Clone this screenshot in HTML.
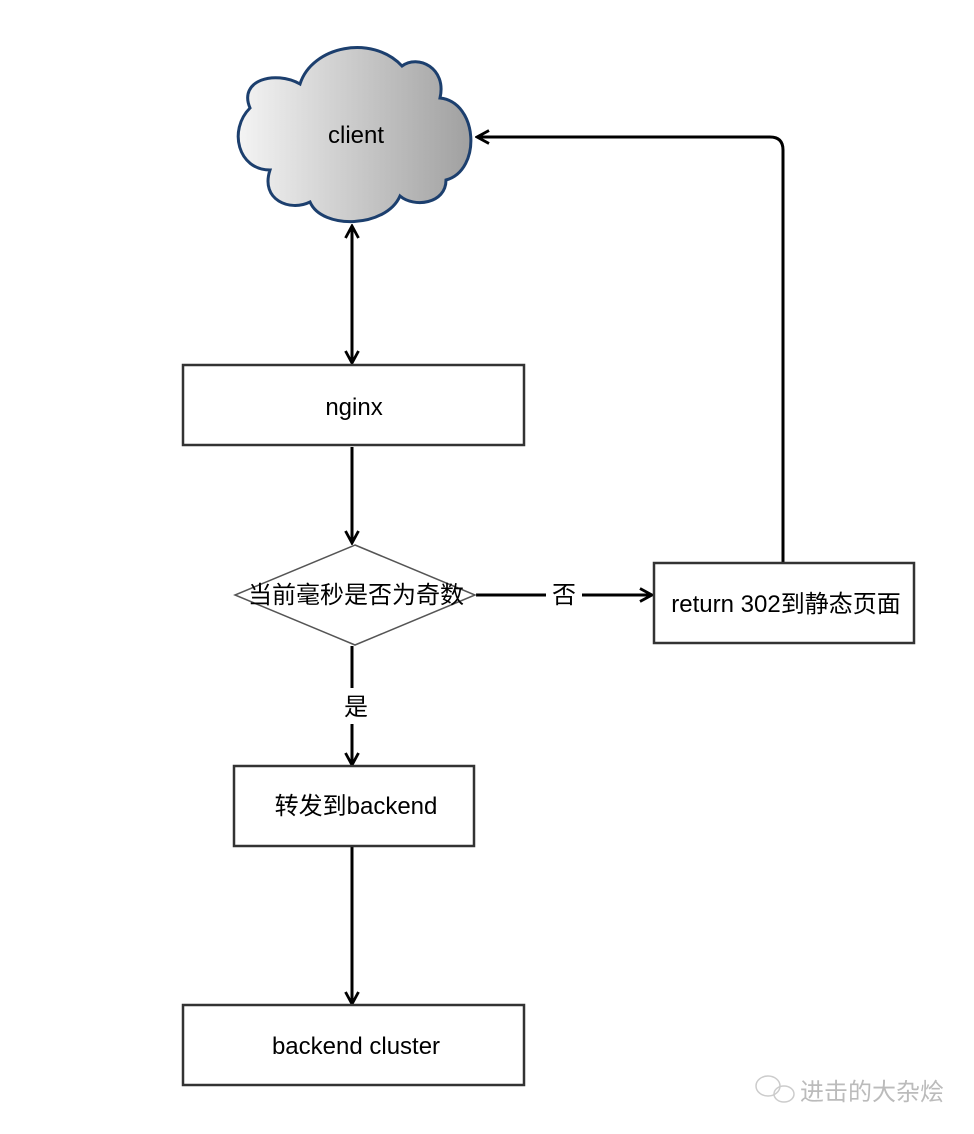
<!DOCTYPE html>
<html><head><meta charset="utf-8"><style>body{margin:0;background:#fff}svg{display:block}text{font-family:"Liberation Sans","Noto Sans CJK SC",sans-serif;font-size:24px;fill:#000}</style></head><body>
<svg width="974" height="1134" viewBox="0 0 974 1134" xmlns="http://www.w3.org/2000/svg">
<defs>
<linearGradient id="g" x1="0" x2="1" y1="0" y2="0"><stop offset="0" stop-color="#f4f4f4"/><stop offset="1" stop-color="#a0a0a0"/></linearGradient>
<marker id="a" viewBox="0 0 16 16" refX="14" refY="8" markerWidth="16" markerHeight="16" markerUnits="userSpaceOnUse" orient="auto-start-reverse"><path d="M2,1.5 L14,8 L2,14.5" fill="none" stroke="#000" stroke-width="2.8"/></marker>
</defs>
<path d="M270,170 C238,170 228,130 250,108 C238,80 275,70 300,84 C312,46 372,34 402,66 C418,54 447,68 440,98 C478,102 482,170 446,180 C446,204 414,208 400,196 C386,228 322,230 310,202 C290,212 260,200 270,170 Z" fill="url(#g)" stroke="#1c3f6e" stroke-width="3"/>
<text x="356" y="143" text-anchor="middle">client</text>
<g stroke="#000" stroke-width="3" fill="none">
<line x1="352" y1="226" x2="352" y2="363" marker-start="url(#a)" marker-end="url(#a)"/>
<line x1="352" y1="447" x2="352" y2="543" marker-end="url(#a)"/>
<line x1="352" y1="646" x2="352" y2="688"/>
<line x1="352" y1="724" x2="352" y2="765" marker-end="url(#a)"/>
<line x1="476" y1="595" x2="546" y2="595"/>
<line x1="582" y1="595" x2="652" y2="595" marker-end="url(#a)"/>
<path d="M783,562 L783,150 Q783,137 770,137 L477,137" marker-end="url(#a)"/>
<line x1="352" y1="847" x2="352" y2="1004" marker-end="url(#a)"/>
</g>
<g fill="#fff" stroke="#333" stroke-width="2.5">
<rect x="183" y="365" width="341" height="80"/>
<rect x="654" y="563" width="260" height="80"/>
<rect x="234" y="766" width="240" height="80"/>
<rect x="183" y="1005" width="341" height="80"/>
</g>
<polygon points="355,545 475,595 355,645 235,595" fill="#fff" stroke="#555" stroke-width="1.5"/>
<text x="354" y="415" text-anchor="middle">nginx</text>
<text x="356" y="603" text-anchor="middle">当前毫秒是否为奇数</text>
<text x="564" y="603" text-anchor="middle">否</text>
<text x="356" y="715" text-anchor="middle">是</text>
<text x="786" y="612" text-anchor="middle">return 302到静态页面</text>
<text x="356" y="814" text-anchor="middle">转发到backend</text>
<text x="356" y="1054" text-anchor="middle">backend cluster</text>
<g fill="none" stroke="#ccc" stroke-width="1.5"><ellipse cx="768" cy="1086" rx="12" ry="10"/><ellipse cx="784" cy="1094" rx="10" ry="8"/></g>
<text x="800" y="1100" style="fill:#bbb">进击的大杂烩</text>
</svg>
</body></html>
